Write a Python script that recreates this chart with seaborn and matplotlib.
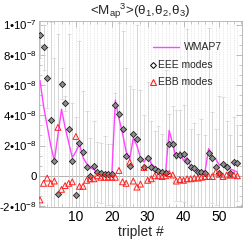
"""Recreation of the <Map^3> triplet comparison plot (EEE / EBB modes vs WMAP7)."""

import numpy as np
import pandas as pd
import matplotlib

matplotlib.use("Agg")
import matplotlib.pyplot as plt
import seaborn as sns
from matplotlib.ticker import MultipleLocator, FixedLocator

# values in units of 1e-8
triplet = list(range(0, 56))

eee = [9.3, 8.5, 6.5, 3.7, 1.0, -1.2, 6.1, 4.8, 3.1, 1.0,
       -1.3, 2.2, 1.6, 0.6, 0.0, 0.65, 0.25, 0.2, 0.15, 0.1,
       0.1, 4.7, 4.1, 3.1, 1.3, 0.65, 2.75, 2.4, 1.1, 0.55,
       1.2, 0.6, 0.45, 0.3, 0.25, 0.2, 2.1, 2.1, 1.35, 1.35,
       1.45, 1.0, 0.6, 0.5, 0.25, 0.25, 0.2, 1.5, 1.2, 0.6,
       0.2, 0.8, 0.6, 0.2, 0.9, 0.85]

ebb = [-1.6, -0.5, -0.15, -0.5, -0.35, 3.2, -0.9, -0.65, -0.5, -0.4,
       2.6, -0.7, -0.7, -0.3, -0.2, -0.2, 0.0, -0.1, -0.1, -0.1,
       -0.1, -0.1, 0.35, -0.4, -0.5, 0.9, -0.35, -0.75, -0.55, 0.55,
       -0.3, -0.2, 0.0, 0.0, -0.05, 0.0, 0.15, 0.05, -0.35, -0.25,
       -0.3, -0.2, -0.2, -0.15, -0.15, -0.1, -0.05, -0.05, -0.05, 0.25,
       0.1, -0.05, 0.05, 0.05, 0.05, 0.0]

wmap7 = [6.3, 4.6, 3.3, 2.0, 1.0, 2.7, 4.4, 3.2, 2.2, 1.2,
         1.6, 2.1, 1.2, 0.8, 0.55, 0.4, 0.25, 0.1, 0.05, 0.02,
         0.0, 5.0, 3.8, 2.8, 1.6, 1.1, 2.5, 2.0, 1.2, 0.9,
         1.3, 0.8, 0.55, 0.4, 0.3, 0.2, 3.0, 2.1, 1.1, 1.6,
         1.0, 1.2, 0.6, 0.45, 0.35, 0.3, 0.3, 1.8, 1.2, 1.1,
         0.7, 0.8, 0.55, 0.45, 0.35, 0.25]

eee_err = [1.5, 1.5, 2.0, 6.5, 6.8, 10.6, 1.0, 0.5, 6.3, 3.8,
           5.2, 6.7, 4.0, 3.7, 2.5, 3.0, 2.0, 2.0, 2.5, 2.0,
           2.0, 0.8, 6.0, 6.5, 5.8, 5.3, 3.0, 7.6, 4.6, 3.5,
           5.0, 3.0, 2.5, 3.0, 2.5, 6.8, 2.0, 2.5, 3.0, 3.0,
           3.2, 8.7, 2.5, 3.0, 2.5, 3.5, 2.5, 8.3, 3.0, 2.5,
           5.1, 4.4, 3.0, 2.5, 3.0, 2.5]

scale = 1e-8
df = pd.DataFrame({
    "triplet": triplet,
    "EEE": np.array(eee) * scale,
    "EBB": np.array(ebb) * scale,
    "WMAP7": np.array(wmap7) * scale,
    "err": np.array(eee_err) * scale,
})

sns.set_theme(style="ticks")
plt.rcParams["font.family"] = ["Liberation Sans", "DejaVu Sans"]
plt.rcParams["mathtext.fontset"] = "custom"
plt.rcParams["mathtext.rm"] = "Liberation Sans"
plt.rcParams["mathtext.it"] = "Liberation Sans"
plt.rcParams["mathtext.default"] = "regular"

fig = plt.figure(figsize=(2.49, 2.49), dpi=100)
ax = fig.add_axes([0.157, 0.169, 0.815, 0.748])

# dotted guide line at each triplet
for t in df["triplet"]:
    ax.axvline(t, color="#d4d4d4", lw=0.5, ls=(0, (1, 1.5)), zorder=0)
ax.axhline(0, color="#a8a8a8", lw=0.6, zorder=0)

ax.errorbar(df["triplet"], df["EEE"], yerr=df["err"], fmt="none",
            ecolor="#d2d2d2", elinewidth=0.6, capsize=1.2, capthick=0.5, zorder=1)

sns.lineplot(data=df, x="triplet", y="WMAP7", ax=ax, color="#ff44ff", lw=1.0, zorder=2)
sns.scatterplot(data=df, x="triplet", y="EEE", ax=ax, marker="D", s=10,
                color="#8c8c8c", edgecolor="#202020", linewidth=0.6, zorder=3)
sns.scatterplot(data=df, x="triplet", y="EBB", ax=ax, marker="^", s=18,
                facecolor="none", edgecolor="#ff2020", linewidth=0.7, zorder=3)

ax.set_xlim(-0.25, 56.3)
ax.set_ylim(-2.06e-8, 1.026e-7)

ax.xaxis.set_major_locator(FixedLocator([10, 20, 30, 40, 50]))
ax.xaxis.set_minor_locator(MultipleLocator(2))
yt = [-2e-8, 0, 2e-8, 4e-8, 6e-8, 8e-8, 1e-7]
ax.yaxis.set_major_locator(FixedLocator(yt))
ax.yaxis.set_minor_locator(MultipleLocator(2e-8 / 3))
ax.set_yticklabels(["-2•10$^{-8}$", "0", "2•10$^{-8}$", "4•10$^{-8}$",
                    "6•10$^{-8}$", "8•10$^{-8}$", "1•10$^{-7}$"])
ax.tick_params(axis="both", which="both", direction="in", top=True, right=True,
               colors="#b0b0b0", labelcolor="black", pad=2)
ax.tick_params(axis="y", labelsize=8.2, pad=1.5)
ax.tick_params(axis="x", labelsize=10)
ax.tick_params(which="major", length=4, width=0.6)
ax.tick_params(which="minor", length=2, width=0.5)
for s in ax.spines.values():
    s.set_color("#b0b0b0")
    s.set_linewidth(0.6)

ax.set_xlabel("triplet #", fontsize=10, labelpad=1)
ax.set_ylabel("")
ax.set_title("<M$_{ap}$$^{3}$>(θ$_1$,θ$_2$,θ$_3$)", fontsize=9.6, pad=1.5)

# legend drawn by hand, gnuplot style
ax.plot([0.56, 0.69], [0.86, 0.86], transform=ax.transAxes, color="#ff44ff", lw=1.0)
ax.text(0.715, 0.86, "WMAP7", transform=ax.transAxes, fontsize=7.5, va="center")
ax.plot([0.56], [0.76], transform=ax.transAxes, marker="D", ms=3, mfc="white",
        mec="black", mew=0.7, ls="none")
ax.text(0.585, 0.76, "EEE modes", transform=ax.transAxes, fontsize=7.5, va="center")
ax.plot([0.56], [0.67], transform=ax.transAxes, marker="^", ms=4, mfc="white",
        mec="#ff2020", mew=0.8, ls="none")
ax.text(0.585, 0.67, "EBB modes", transform=ax.transAxes, fontsize=7.5, va="center")

fig.savefig("out.png", dpi=100)
